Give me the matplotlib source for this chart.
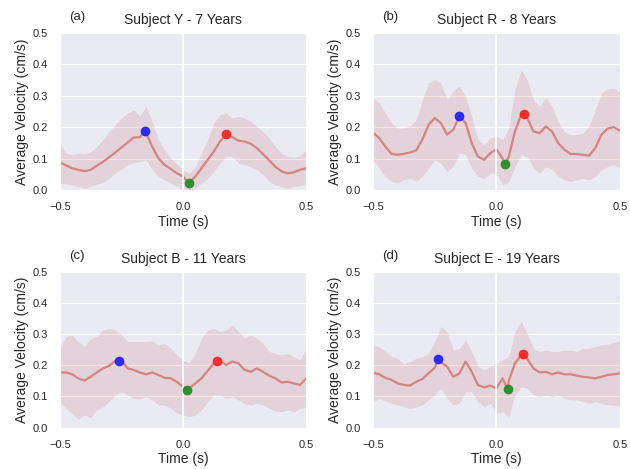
import numpy as np
import matplotlib
matplotlib.use("Agg")
import matplotlib.pyplot as plt
import seaborn as sns

sns.set_style("darkgrid")
plt.rcParams["font.family"] = ["Liberation Sans", "DejaVu Sans"]

t = np.round(np.arange(-0.5, 0.5001, 0.025), 3)

titles = ["Subject Y - 7 Years", "Subject R - 8 Years", "Subject B - 11 Years", "Subject E - 19 Years"]
tags = ["(a)", "(b)", "(c)", "(d)"]

mean_a = [0.088, 0.078, 0.069, 0.064, 0.060, 0.064, 0.077, 0.089, 0.104, 0.119, 0.135, 0.151, 0.167, 0.168,
          0.181, 0.138, 0.101, 0.080, 0.067, 0.053, 0.043, 0.023, 0.043, 0.069, 0.096, 0.122, 0.154, 0.177,
          0.168, 0.157, 0.154, 0.147, 0.133, 0.114, 0.094, 0.074, 0.059, 0.053, 0.056, 0.064, 0.069]
upper_a = [0.149, 0.117, 0.112, 0.117, 0.115, 0.122, 0.138, 0.160, 0.186, 0.207, 0.229, 0.245, 0.255, 0.236,
           0.266, 0.218, 0.160, 0.128, 0.101, 0.083, 0.064, 0.053, 0.074, 0.117, 0.160, 0.213, 0.239, 0.245,
           0.229, 0.234, 0.229, 0.218, 0.202, 0.186, 0.165, 0.138, 0.117, 0.106, 0.104, 0.109, 0.128]
lower_a = [0.021, 0.019, 0.016, 0.011, 0.005, 0.011, 0.018, 0.023, 0.037, 0.053, 0.066, 0.080, 0.087, 0.090,
           0.096, 0.064, 0.043, 0.032, 0.021, 0.011, 0.000, -0.005, 0.005, 0.021, 0.037, 0.059, 0.085, 0.106,
           0.106, 0.085, 0.080, 0.074, 0.064, 0.048, 0.027, 0.016, 0.011, 0.005, 0.011, 0.014, 0.016]

mean_b = [0.183, 0.165, 0.138, 0.115, 0.112, 0.115, 0.119, 0.126, 0.160, 0.207, 0.229, 0.213, 0.176, 0.191,
          0.236, 0.213, 0.149, 0.106, 0.096, 0.117, 0.130, 0.100, 0.106, 0.186, 0.239, 0.229, 0.186, 0.181,
          0.202, 0.186, 0.149, 0.128, 0.115, 0.114, 0.112, 0.109, 0.133, 0.176, 0.195, 0.200, 0.188]
upper_b = [0.293, 0.277, 0.245, 0.213, 0.197, 0.197, 0.204, 0.223, 0.287, 0.340, 0.351, 0.340, 0.287, 0.314,
           0.332, 0.298, 0.234, 0.160, 0.144, 0.165, 0.172, 0.160, 0.197, 0.319, 0.383, 0.351, 0.287, 0.266,
           0.293, 0.266, 0.218, 0.186, 0.176, 0.176, 0.181, 0.202, 0.255, 0.309, 0.321, 0.324, 0.309]
lower_b = [0.096, 0.069, 0.043, 0.027, 0.023, 0.032, 0.037, 0.027, 0.043, 0.069, 0.096, 0.085, 0.059, 0.074,
           0.117, 0.112, 0.069, 0.043, 0.037, 0.053, 0.053, 0.016, 0.027, 0.074, 0.112, 0.106, 0.069, 0.053,
           0.074, 0.064, 0.043, 0.032, 0.027, 0.032, 0.037, 0.032, 0.043, 0.064, 0.074, 0.080, 0.069]

mean_c = [0.177, 0.177, 0.171, 0.158, 0.151, 0.163, 0.177, 0.190, 0.198, 0.214, 0.215, 0.190, 0.185, 0.177,
          0.171, 0.177, 0.169, 0.160, 0.158, 0.147, 0.131, 0.126, 0.142, 0.158, 0.182, 0.206, 0.214, 0.201,
          0.212, 0.206, 0.185, 0.179, 0.190, 0.179, 0.167, 0.158, 0.145, 0.147, 0.142, 0.137, 0.158]
upper_c = [0.254, 0.292, 0.297, 0.276, 0.260, 0.286, 0.292, 0.313, 0.318, 0.313, 0.297, 0.276, 0.276, 0.276,
           0.276, 0.278, 0.265, 0.270, 0.254, 0.233, 0.217, 0.208, 0.238, 0.286, 0.313, 0.318, 0.308, 0.313,
           0.329, 0.308, 0.286, 0.297, 0.286, 0.270, 0.244, 0.238, 0.233, 0.238, 0.228, 0.217, 0.254]
lower_c = [0.083, 0.062, 0.046, 0.027, 0.041, 0.032, 0.057, 0.067, 0.083, 0.105, 0.115, 0.105, 0.094, 0.092,
           0.099, 0.089, 0.073, 0.073, 0.062, 0.046, 0.041, 0.035, 0.041, 0.057, 0.083, 0.105, 0.105, 0.094,
           0.099, 0.089, 0.078, 0.073, 0.078, 0.073, 0.062, 0.053, 0.051, 0.057, 0.051, 0.062, 0.064]

mean_d = [0.176, 0.171, 0.160, 0.153, 0.142, 0.137, 0.135, 0.147, 0.156, 0.174, 0.192, 0.209, 0.196, 0.163,
          0.174, 0.212, 0.179, 0.137, 0.129, 0.135, 0.126, 0.158, 0.150, 0.206, 0.233, 0.220, 0.190, 0.177,
          0.179, 0.171, 0.177, 0.171, 0.171, 0.167, 0.163, 0.161, 0.158, 0.163, 0.169, 0.171, 0.174]
upper_d = [0.265, 0.260, 0.244, 0.228, 0.222, 0.206, 0.212, 0.222, 0.228, 0.238, 0.276, 0.324, 0.308, 0.249,
           0.254, 0.281, 0.244, 0.196, 0.185, 0.196, 0.206, 0.217, 0.228, 0.308, 0.340, 0.302, 0.254, 0.244,
           0.249, 0.244, 0.244, 0.249, 0.249, 0.244, 0.254, 0.254, 0.260, 0.265, 0.267, 0.274, 0.276]
lower_d = [0.083, 0.094, 0.085, 0.078, 0.073, 0.067, 0.062, 0.067, 0.073, 0.089, 0.105, 0.126, 0.094, 0.073,
           0.078, 0.115, 0.115, 0.083, 0.067, 0.078, 0.046, 0.051, 0.035, 0.105, 0.131, 0.126, 0.105, 0.099,
           0.105, 0.099, 0.105, 0.094, 0.089, 0.089, 0.083, 0.078, 0.083, 0.078, 0.073, 0.071, 0.073]

# (time, velocity) of the marked points: blue peak, green minimum, red peak
blue_pts = [(-0.153, 0.189), (-0.150, 0.236), (-0.259, 0.215), (-0.237, 0.219)]
green_pts = [(0.023, 0.023), (0.035, 0.081), (0.015, 0.122), (0.045, 0.124)]
red_pts = [(0.175, 0.177), (0.110, 0.243), (0.136, 0.215), (0.108, 0.236)]

means = [mean_a, mean_b, mean_c, mean_d]
uppers = [upper_a, upper_b, upper_c, upper_d]
lowers = [lower_a, lower_b, lower_c, lower_d]

fig = plt.figure(figsize=(6.3, 4.69), dpi=100)
boxes = [[0.095, 0.595, 0.391, 0.335], [0.592, 0.595, 0.392, 0.335],
         [0.095, 0.088, 0.391, 0.333], [0.592, 0.088, 0.392, 0.333]]

for i in range(4):
    ax = fig.add_axes(boxes[i])
    # put the marked points into the line so it runs through them
    tt = np.array(t, dtype=float)
    mm = np.array(means[i], dtype=float)
    for px, py in [blue_pts[i], green_pts[i], red_pts[i]]:
        k = np.searchsorted(tt, px)
        if k < len(tt) and abs(tt[k] - px) < 1e-6:
            mm[k] = py
        else:
            tt = np.insert(tt, k, px)
            mm = np.insert(mm, k, py)
    ax.fill_between(t, lowers[i], uppers[i], color="#c44e52", alpha=0.15, linewidth=0)
    ax.plot(tt, mm, color="#d5847f", linewidth=1.6)
    ax.axvline(0, color="white", linewidth=1.2)
    ax.plot(*blue_pts[i], "o", color="#1f1fff", markersize=6, alpha=0.9)
    ax.plot(*green_pts[i], "o", color="#228b22", markersize=6, alpha=0.9)
    ax.plot(*red_pts[i], "o", color="#ff2020", markersize=6, alpha=0.9)
    ax.set_xlim(-0.5, 0.5)
    ax.set_ylim(0, 0.5)
    ax.set_xticks([-0.5, 0.0, 0.5])
    ax.set_yticks([0.0, 0.1, 0.2, 0.3, 0.4, 0.5])
    ax.tick_params(axis="both", labelsize=8, pad=5, colors="#262626")
    ax.set_xlabel("Time (s)", fontsize=10, labelpad=2, color="#262626")
    ax.set_ylabel("Average Velocity (cm/s)", fontsize=10, labelpad=3, color="#262626")
    ax.set_title(titles[i], fontsize=10, pad=6, color="#262626")
    ax.text(0.037, 1.06, tags[i], transform=ax.transAxes, fontsize=9.5, va="bottom", color="#262626")

fig.savefig("out.png", dpi=100)
